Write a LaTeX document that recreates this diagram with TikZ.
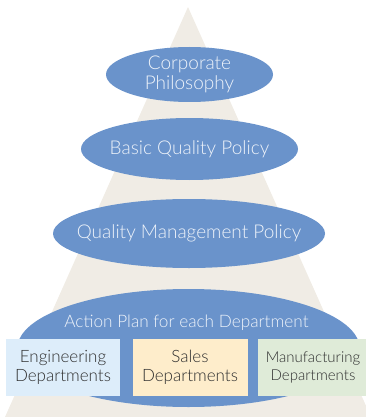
\documentclass[tikz,border=0pt]{standalone}
\usepackage{fontspec}
\setmainfont{Lato Light}
\usetikzlibrary{shapes.geometric}
\definecolor{beige}{HTML}{F0ECE5}
\definecolor{blob}{HTML}{6A93CB}
\definecolor{etxt}{HTML}{EEF3FA}
\definecolor{engc}{HTML}{DDEDFA}
\definecolor{salc}{HTML}{FEEDCB}
\definecolor{manc}{HTML}{DFEBD8}
\definecolor{dtxt}{HTML}{2E2E2E}
\tikzset{
  blobshape/.style={ellipse, fill=blob, draw=none, inner sep=0pt},
  etext/.style={text=etxt, align=center, inner sep=0pt, font=\fontsize{19}{20}\selectfont},
  dept/.style={draw=none, inner sep=0pt, minimum height=57, text=dtxt, align=center, font=\fontsize{17}{19}\selectfont}
}
\begin{document}
\begin{tikzpicture}[x=1pt,y=-1pt]
\useasboundingbox (0,0) rectangle (366,417);
\clip (0,0) rectangle (366,417);
\fill[beige] (188,7) -- (371,417) -- (5,417) -- cycle;
\node[blobshape, minimum width=167, minimum height=55] (e1) at (189.5,74.5) {};
\node[etext] (t1) at (e1) {Corporate\\Philosophy};
\node[blobshape, minimum width=217, minimum height=62] (e2) at (189.5,149) {};
\node[etext] (t2) at (e2) {Basic Quality Policy};
\node[blobshape, minimum width=272, minimum height=69] (e3) at (189,233.5) {};
\node[etext] (t3) at (e3) {Quality Management Policy};
\node[blobshape, minimum width=342, minimum height=118] (e4) at (188.5,348) {};
\node[etext, font=\fontsize{17.2}{20}\selectfont] (t4) at (186.5,323) {Action Plan for each Department};
\node[dept, fill=engc, minimum width=114] (d1) at (63,367) {Engineering\\Departments};
\node[dept, fill=salc, minimum width=115] (d2) at (190,367) {Sales\\Departments};
\node[dept, fill=manc, minimum width=110, font=\fontsize{15}{18}\selectfont] (d3) at (313,367.5) {Manufacturing\\Departments};
\end{tikzpicture}
\end{document}
